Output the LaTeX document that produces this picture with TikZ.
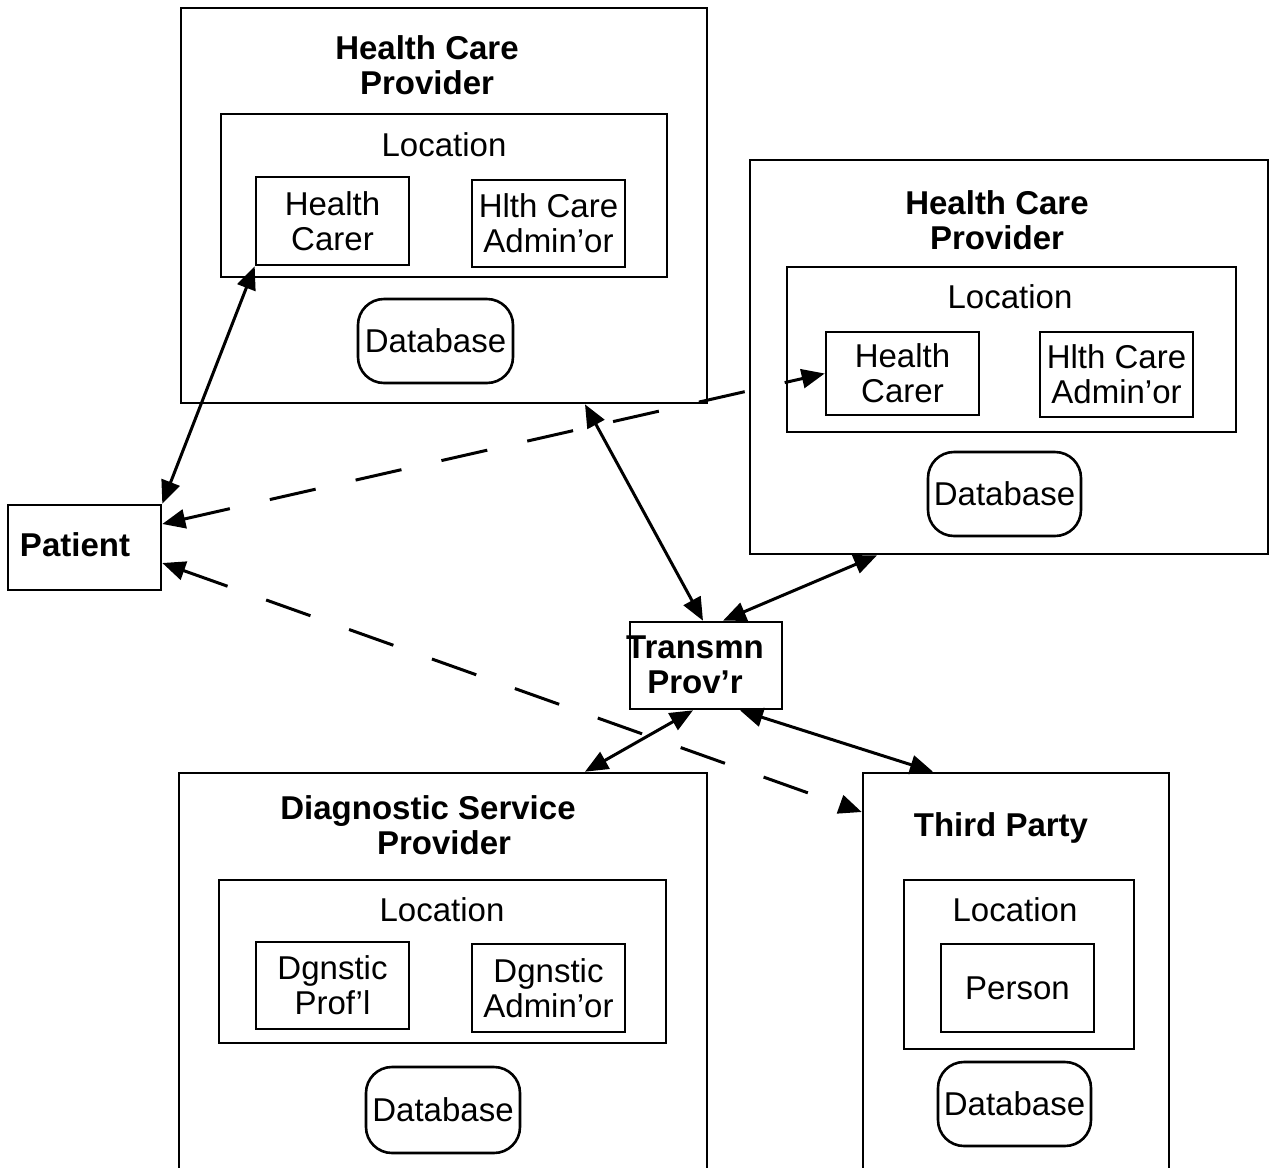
\documentclass[tikz,border=0pt]{standalone}
\usepackage{fontspec}
\setmainfont{Liberation Sans}
\usetikzlibrary{arrows.meta,calc}
\begin{document}
\begin{tikzpicture}[x=1pt,y=-1pt,
  box/.style={draw, line width=2.6pt, fill=white, inner sep=0pt, font=\fontsize{33}{35}\selectfont, align=center},
  db/.style={box, rounded corners=26pt},
  lbl/.style={font=\fontsize{33}{35}\selectfont, align=center, inner sep=0pt},
  ttl/.style={font=\fontsize{33}{35}\selectfont\bfseries, align=center, inner sep=0pt},
  tip/.tip={Triangle[length=23pt,width=19pt]},
  link/.style={line width=3pt, tip-tip},
  dlink/.style={link, dash pattern=on 47pt off 41pt}]
\useasboundingbox (0,0) rectangle (1270,1168);
\clip (0,0) rectangle (1270,1168);

% ---------- top-left Health Care Provider ----------
\node[box, minimum width=526pt, minimum height=395pt] (hcpA) at (444,205.5) {};
\node[ttl] (hcpAt) at (427,65) {Health Care\\Provider};
\node[box, minimum width=446pt, minimum height=163pt] (locA) at (444,195.5) {};
\node[lbl] (locAt) at (444,145) {Location};
\node[box, minimum width=153pt, minimum height=88pt] (hcA) at (332.5,221) {Health\\Carer};
\node[box, minimum width=153pt, minimum height=87pt] (adA) at (548.5,223.5) {Hlth Care\\Admin’or};
\node[db, minimum width=155pt, minimum height=84pt] (dbA) at (435.5,341) {Database};

% ---------- right Health Care Provider ----------
\node[box, minimum width=518pt, minimum height=394pt] (hcpB) at (1009,357) {};
\node[ttl] (hcpBt) at (997,220) {Health Care\\Provider};
\node[box, minimum width=449pt, minimum height=165pt] (locB) at (1011.5,349.5) {};
\node[lbl] (locBt) at (1010,297) {Location};
\node[box, minimum width=153pt, minimum height=83pt] (hcB) at (902.5,373.5) {Health\\Carer};
\node[box, minimum width=153pt, minimum height=85pt] (adB) at (1116.5,374.5) {Hlth Care\\Admin’or};
\node[db, minimum width=153pt, minimum height=84pt] (dbB) at (1004.5,494) {Database};

% ---------- Patient ----------
\node[box, minimum width=153pt, minimum height=85pt] (pat) at (84.5,547.5) {};
\node[ttl] (patt) at (75,545) {Patient};

% ---------- Transmission Provider ----------
\node[box, minimum width=152pt, minimum height=87pt] (tp) at (706,665.5) {};
\node[ttl] (tpt) at (695,665) {Transmn\\Prov’r};

% ---------- Diagnostic Service Provider ----------
\node[box, minimum width=528pt, minimum height=402pt] (dsp) at (443,974) {};
\node[ttl] (dspt) at (428,825) {Diagnostic Service\\\hspace*{32pt}Provider};
\node[box, minimum width=447pt, minimum height=163pt] (locC) at (442.5,961.5) {};
\node[lbl] (locCt) at (442,910) {Location};
\node[box, minimum width=153pt, minimum height=87pt] (prC) at (332.5,985.5) {Dgnstic\\Prof’l};
\node[box, minimum width=153pt, minimum height=88pt] (adC) at (548.5,988) {Dgnstic\\Admin’or};
\node[db, minimum width=154pt, minimum height=86pt] (dbC) at (443,1110) {Database};

% ---------- Third Party ----------
\node[box, minimum width=306pt, minimum height=402pt] (thp) at (1016,974) {};
\node[ttl] (thpt) at (1001,828) {Third Party};
\node[box, minimum width=230pt, minimum height=169pt] (locD) at (1019,964.5) {};
\node[lbl] (locDt) at (1015,910) {Location};
\node[box, minimum width=153pt, minimum height=88pt] (perD) at (1017.5,988) {Person};
\node[db, minimum width=153pt, minimum height=84pt] (dbD) at (1014.5,1104) {Database};

% ---------- connectors ----------
\draw[link] (hcA.south west) -- (pat.north east);
\draw[link] (585,0 |- hcpA.south) -- (703,0 |- tp.north);
\draw[link] (723,0 |- tp.north) -- (877,0 |- hcpB.south);
\draw[link] (693,0 |- tp.south) -- (585,0 |- dsp.north);
\draw[link] (740,0 |- tp.south) -- (933,0 |- thp.north);
\draw[dlink] (pat.east |- 0,524) -- (hcB.west);
\draw[dlink] (pat.east |- 0,563) -- (thp.west |- 0,812);
\end{tikzpicture}
\end{document}
